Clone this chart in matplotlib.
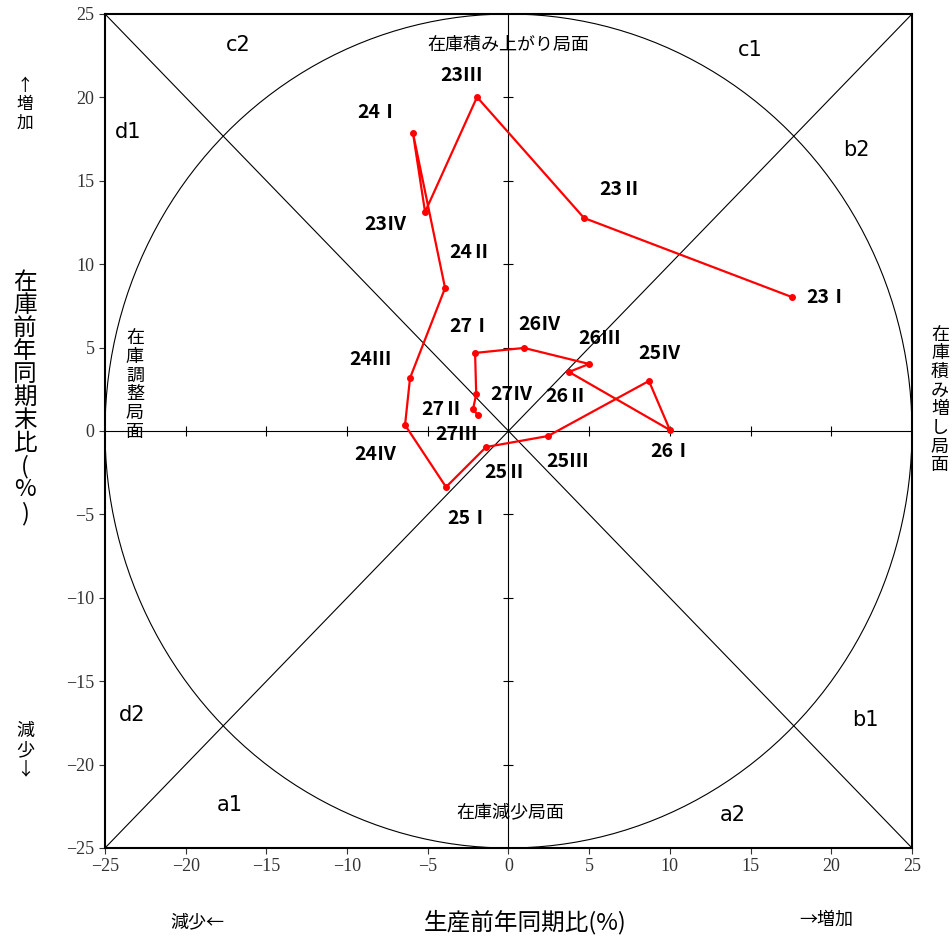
import matplotlib
matplotlib.use("Agg")
import matplotlib.pyplot as plt
import numpy as np

plt.rcParams['font.family'] = ['Noto Sans CJK JP', 'DejaVu Sans']

labels = ["23Ⅰ","23Ⅱ","23Ⅲ","23Ⅳ","24Ⅰ","24Ⅱ","24Ⅲ","24Ⅳ","25Ⅰ","25Ⅱ","25Ⅲ","25Ⅳ",
          "26Ⅰ","26Ⅱ","26Ⅲ","26Ⅳ","27Ⅰ","27Ⅱ","27Ⅲ","27Ⅳ"]
production = [17.56, 4.68, -1.95, -5.17, -5.92, -3.93, -6.10, -6.41, -3.87, -1.39, 2.45, 8.70,
              10.0, 3.75, 4.99, 0.96, -2.07, -2.0, -2.2, -1.9]
inventory = [8.03, 12.77, 20.02, 13.13, 17.87, 8.57, 3.18, 0.36, -3.36, -0.96, -0.30, 3.00,
             0.06, 3.54, 4.02, 4.98, 4.68, 2.2, 1.3, 0.96]
# label offsets in pixels (dx right, dy up)
label_dx = [36, 36, -15, -40, -35, 25, -40, -30, 22, 19, 20, 11, 2, -2, 11, 16, -5, -34, -16, 34]
label_dy = [0, 28, 22, -13, 20, 36, 18, -30, -31, -25, -25, 27, -22, -25, 25, 23, 26, -15, -25, 20]

fig = plt.figure(figsize=(9.52, 9.41), dpi=100)
ax = fig.add_axes([105/952, 93/941, 807/952, 834/941])
ax.set_xlim(-25, 25); ax.set_ylim(-25, 25)
ticks = np.arange(-25, 26, 5)
ax.set_xticks(ticks); ax.set_yticks(ticks)
ax.tick_params(direction='out', length=4, labelsize=13, colors='#333333')
for t in ax.get_xticklabels() + ax.get_yticklabels():
    t.set_fontfamily('Liberation Serif')
for s in ax.spines.values():
    s.set_linewidth(1.5)

ax.axhline(0, color='k', lw=0.8); ax.axvline(0, color='k', lw=0.8)
ax.plot([-25, 25], [-25, 25], color='k', lw=0.8)
ax.plot([-25, 25], [25, -25], color='k', lw=0.8)
th = np.linspace(0, 2*np.pi, 400)
ax.plot(25*np.cos(th), 25*np.sin(th), color='k', lw=0.8)
inner = [t for t in ticks if t not in (-25, 0, 25)]
ax.plot(inner, [0]*len(inner), ls='none', marker='|', color='k', ms=7, mew=0.8)
ax.plot([0]*len(inner), inner, ls='none', marker='_', color='k', ms=7, mew=0.8)

ax.plot(production, inventory, color='#ff0000', lw=1.6, marker='o', ms=4)
for lab, x, y, dx, dy in zip(labels, production, inventory, label_dx, label_dy):
    ax.annotate(lab, (x, y), xytext=(dx, dy), textcoords='offset pixels', ha='center', va='center',
                fontsize=14, fontweight='bold')

def ft(px, py, s, **kw):
    fig.text(px/952, 1-py/941, s, ha='center', va='center', **kw)

for s, px, py in [("c2",238,45),("c1",750,50),("d1",128,132),("b2",856,150),
                  ("d2",132,715),("b1",865,720),("a1",230,805),("a2",733,815)]:
    ft(px, py, s, fontsize=15, fontfamily='DejaVu Sans')
ft(508, 45, "在庫積み上がり局面", fontsize=13)
ft(510, 812, "在庫減少局面", fontsize=13)
ft(940, 400, "\n".join("在庫積み増し局面"), fontsize=13, linespacing=1.05)
ft(135, 385, "\n".join("在庫調整局面"), fontsize=13, linespacing=1.05)
ft(25, 398, "\n".join("在庫前年同期末比") + "\n(\n%\n)", fontsize=17, linespacing=1.0)
ft(25, 105, "↑\n増\n加", fontsize=12, linespacing=1.1)
ft(25, 750, "減\n少\n↓", fontsize=13, linespacing=1.1)
ft(525, 922, "生産前年同期比(%)", fontsize=17)
ft(197, 922, "減少←", fontsize=13)
ft(826, 920, "→増加", fontsize=13)

fig.savefig("out.png", dpi=100)
